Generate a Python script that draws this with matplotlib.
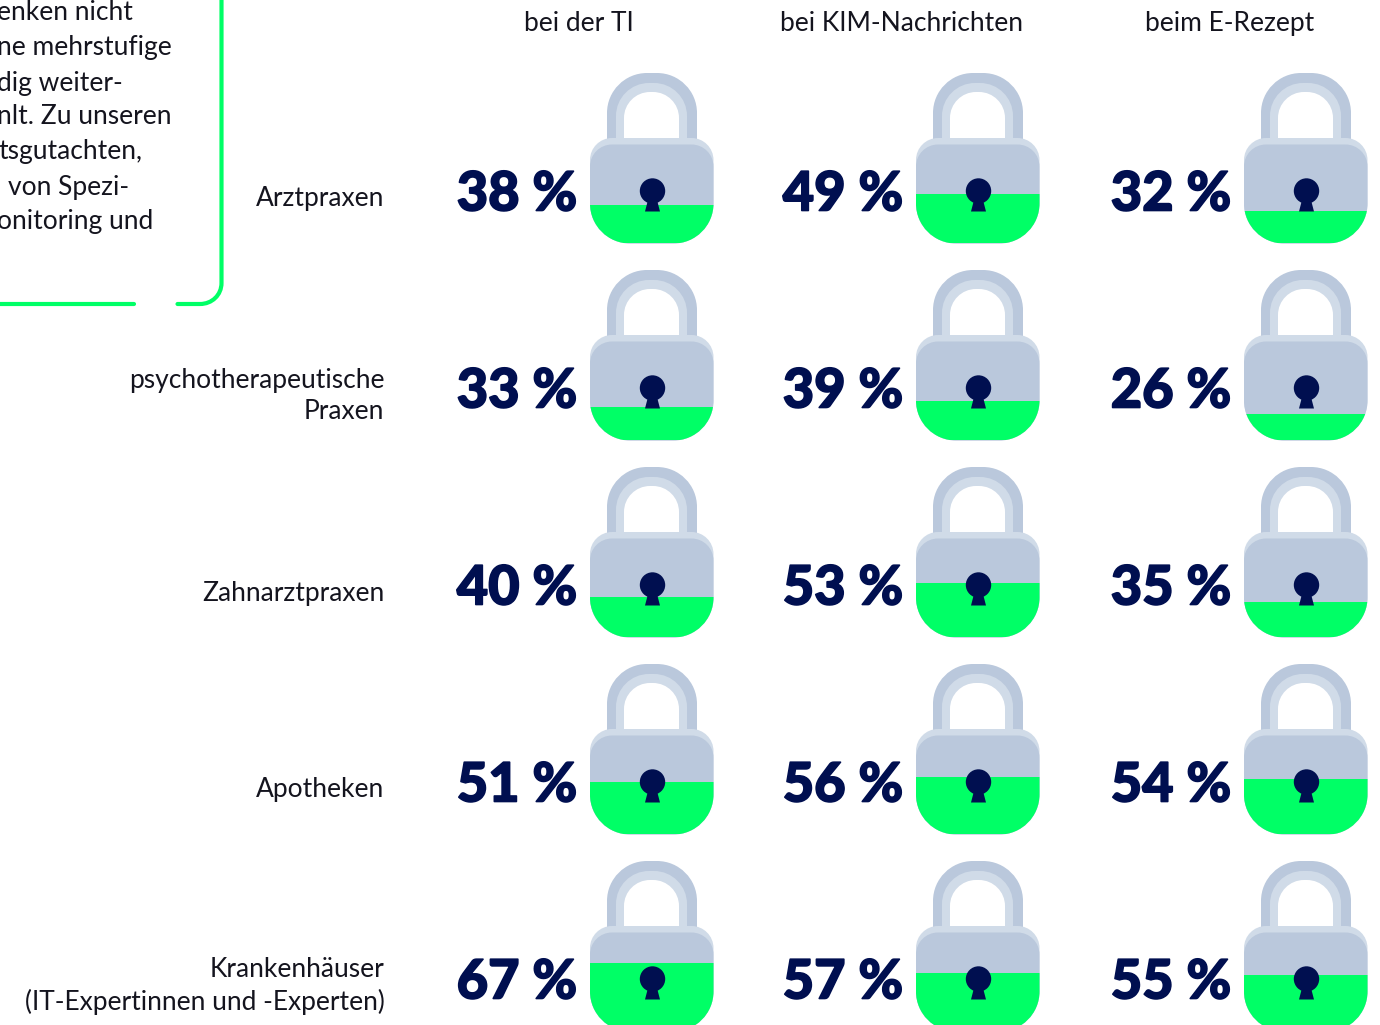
import matplotlib
matplotlib.use("Agg")
import matplotlib.pyplot as plt
import matplotlib.patheffects as pe
from matplotlib.path import Path
from matplotlib.patches import PathPatch, Rectangle, Circle, Polygon

categories = ["Arztpraxen", "psychotherapeutische\nPraxen", "Zahnarztpraxen", "Apotheken",
              "Krankenhäuser\n(IT-Expertinnen und -Experten)"]
columns = ["bei der TI", "bei KIM-Nachrichten", "beim E-Rezept"]
ti = [38, 33, 40, 51, 67]
kim = [49, 39, 53, 56, 57]
erezept = [32, 26, 35, 54, 55]
series = [ti, kim, erezept]
note_lines = ["enken nicht", "ne mehrstufige", "dig weiter-", "nlt. Zu unseren", "tsgutachten,", "von Spezi-", "onitoring und"]

NAVY = "#000F50"
GREEN = "#00FF66"
DARK = "#BAC8DC"
LIGHT = "#D0DBE8"
TEXT = "#14141E"
FONT = "Lato"

fig = plt.figure(figsize=(13.8, 10.25), dpi=100)
ax = fig.add_axes([0, 0, 1, 1])
ax.set_xlim(0, 1380)
ax.set_ylim(1025, 0)
ax.axis("off")

K = 0.5523


def round_rect(x0, y0, x1, y1, rt, rb):
    c = []
    v = [(x0, y0 + rt)]
    c.append(Path.MOVETO)
    def arc(p1, p2, p3):
        v.extend([p1, p2, p3])
        c.extend([Path.CURVE4] * 3)
    arc((x0, y0 + rt * (1 - K)), (x0 + rt * (1 - K), y0), (x0 + rt, y0))
    v.append((x1 - rt, y0)); c.append(Path.LINETO)
    arc((x1 - rt * (1 - K), y0), (x1, y0 + rt * (1 - K)), (x1, y0 + rt))
    v.append((x1, y1 - rb)); c.append(Path.LINETO)
    arc((x1, y1 - rb * (1 - K)), (x1 - rb * (1 - K), y1), (x1 - rb, y1))
    v.append((x0 + rb, y1)); c.append(Path.LINETO)
    arc((x0 + rb * (1 - K), y1), (x0, y1 - rb * (1 - K)), (x0, y1 - rb))
    v.append((x0, y0 + rt)); c.append(Path.CLOSEPOLY)
    return Path(v, c)


def lock(x, y, value):
    """x = left edge of body, y = top of shackle."""
    ax.add_patch(PathPatch(round_rect(x + 17, y, x + 107, y + 100, 40, 0), fc=DARK, ec="none"))
    ax.add_patch(PathPatch(round_rect(x + 26, y + 10, x + 97, y + 100, 33, 0), fc=LIGHT, ec="none"))
    ax.add_patch(PathPatch(round_rect(x + 34, y + 19, x + 89, y + 100, 26, 0), fc="white", ec="none"))
    outer = PathPatch(round_rect(x, y + 65, x + 123.5, y + 170.5, 22, 40), fc=LIGHT, ec="none")
    ax.add_patch(outer)
    inner = PathPatch(round_rect(x, y + 71.5, x + 123.5, y + 170.5, 22, 40), fc=DARK, ec="none")
    ax.add_patch(inner)
    g = Rectangle((x, y + 170 - value * 1.01), 123.5, value * 1.01, fc=GREEN, ec="none")
    ax.add_patch(g)
    g.set_clip_path(outer)
    cx = x + 62.5
    cy = y + 118
    ax.add_patch(Polygon([(cx - 4.5, cy + 9), (cx + 4.5, cy + 9), (cx + 7.5, cy + 20.5), (cx - 7.5, cy + 20.5)], fc=NAVY, ec="none"))
    ax.add_patch(Circle((cx, cy), 12.7, fc=NAVY, ec="none"))


lock_x = [590, 916, 1244]
num_x = [517, 843, 1171]
head_x = [579, 902, 1230]
bold = [pe.withStroke(linewidth=1.2, foreground=NAVY)]
for j, vals in enumerate(series):
    ax.text(head_x[j], 23.5, columns[j], ha="center", va="center", fontsize=19, family=FONT, color=TEXT)
    for i, v in enumerate(vals):
        top = 73 + 197 * i
        lock(lock_x[j], top, v)
        ax.text(num_x[j], top + 122, f"{v} %", ha="center", va="center", fontsize=39,
                family=FONT, weight="black", color=NAVY, path_effects=bold)

label_y = [198.5, 396, 593, 789, 986]
for lab, y in zip(categories, label_y):
    ax.text(384.5, y, lab, ha="right", va="center", fontsize=19, family=FONT, color=TEXT, linespacing=1.32)

note_x = [-3, -3, -3, -3, -2, 8, -3]
note_y = [13, 48, 83, 117, 152, 187, 222]
for t, x, y in zip(note_lines, note_x, note_y):
    ax.text(x, y, t, ha="left", va="center", fontsize=19, family=FONT, color=TEXT)

box = Path([(221.5, -5), (221.5, 283), (221.5, 295), (212, 304), (200, 304), (177.5, 304)],
           [Path.MOVETO, Path.LINETO, Path.CURVE4, Path.CURVE4, Path.CURVE4, Path.LINETO])
ax.add_patch(PathPatch(box, fc="none", ec=GREEN, lw=3, capstyle="round"))
ax.plot([-5, 133.5], [304, 304], color=GREEN, lw=3, solid_capstyle="round")

fig.savefig("out.png", dpi=100)
